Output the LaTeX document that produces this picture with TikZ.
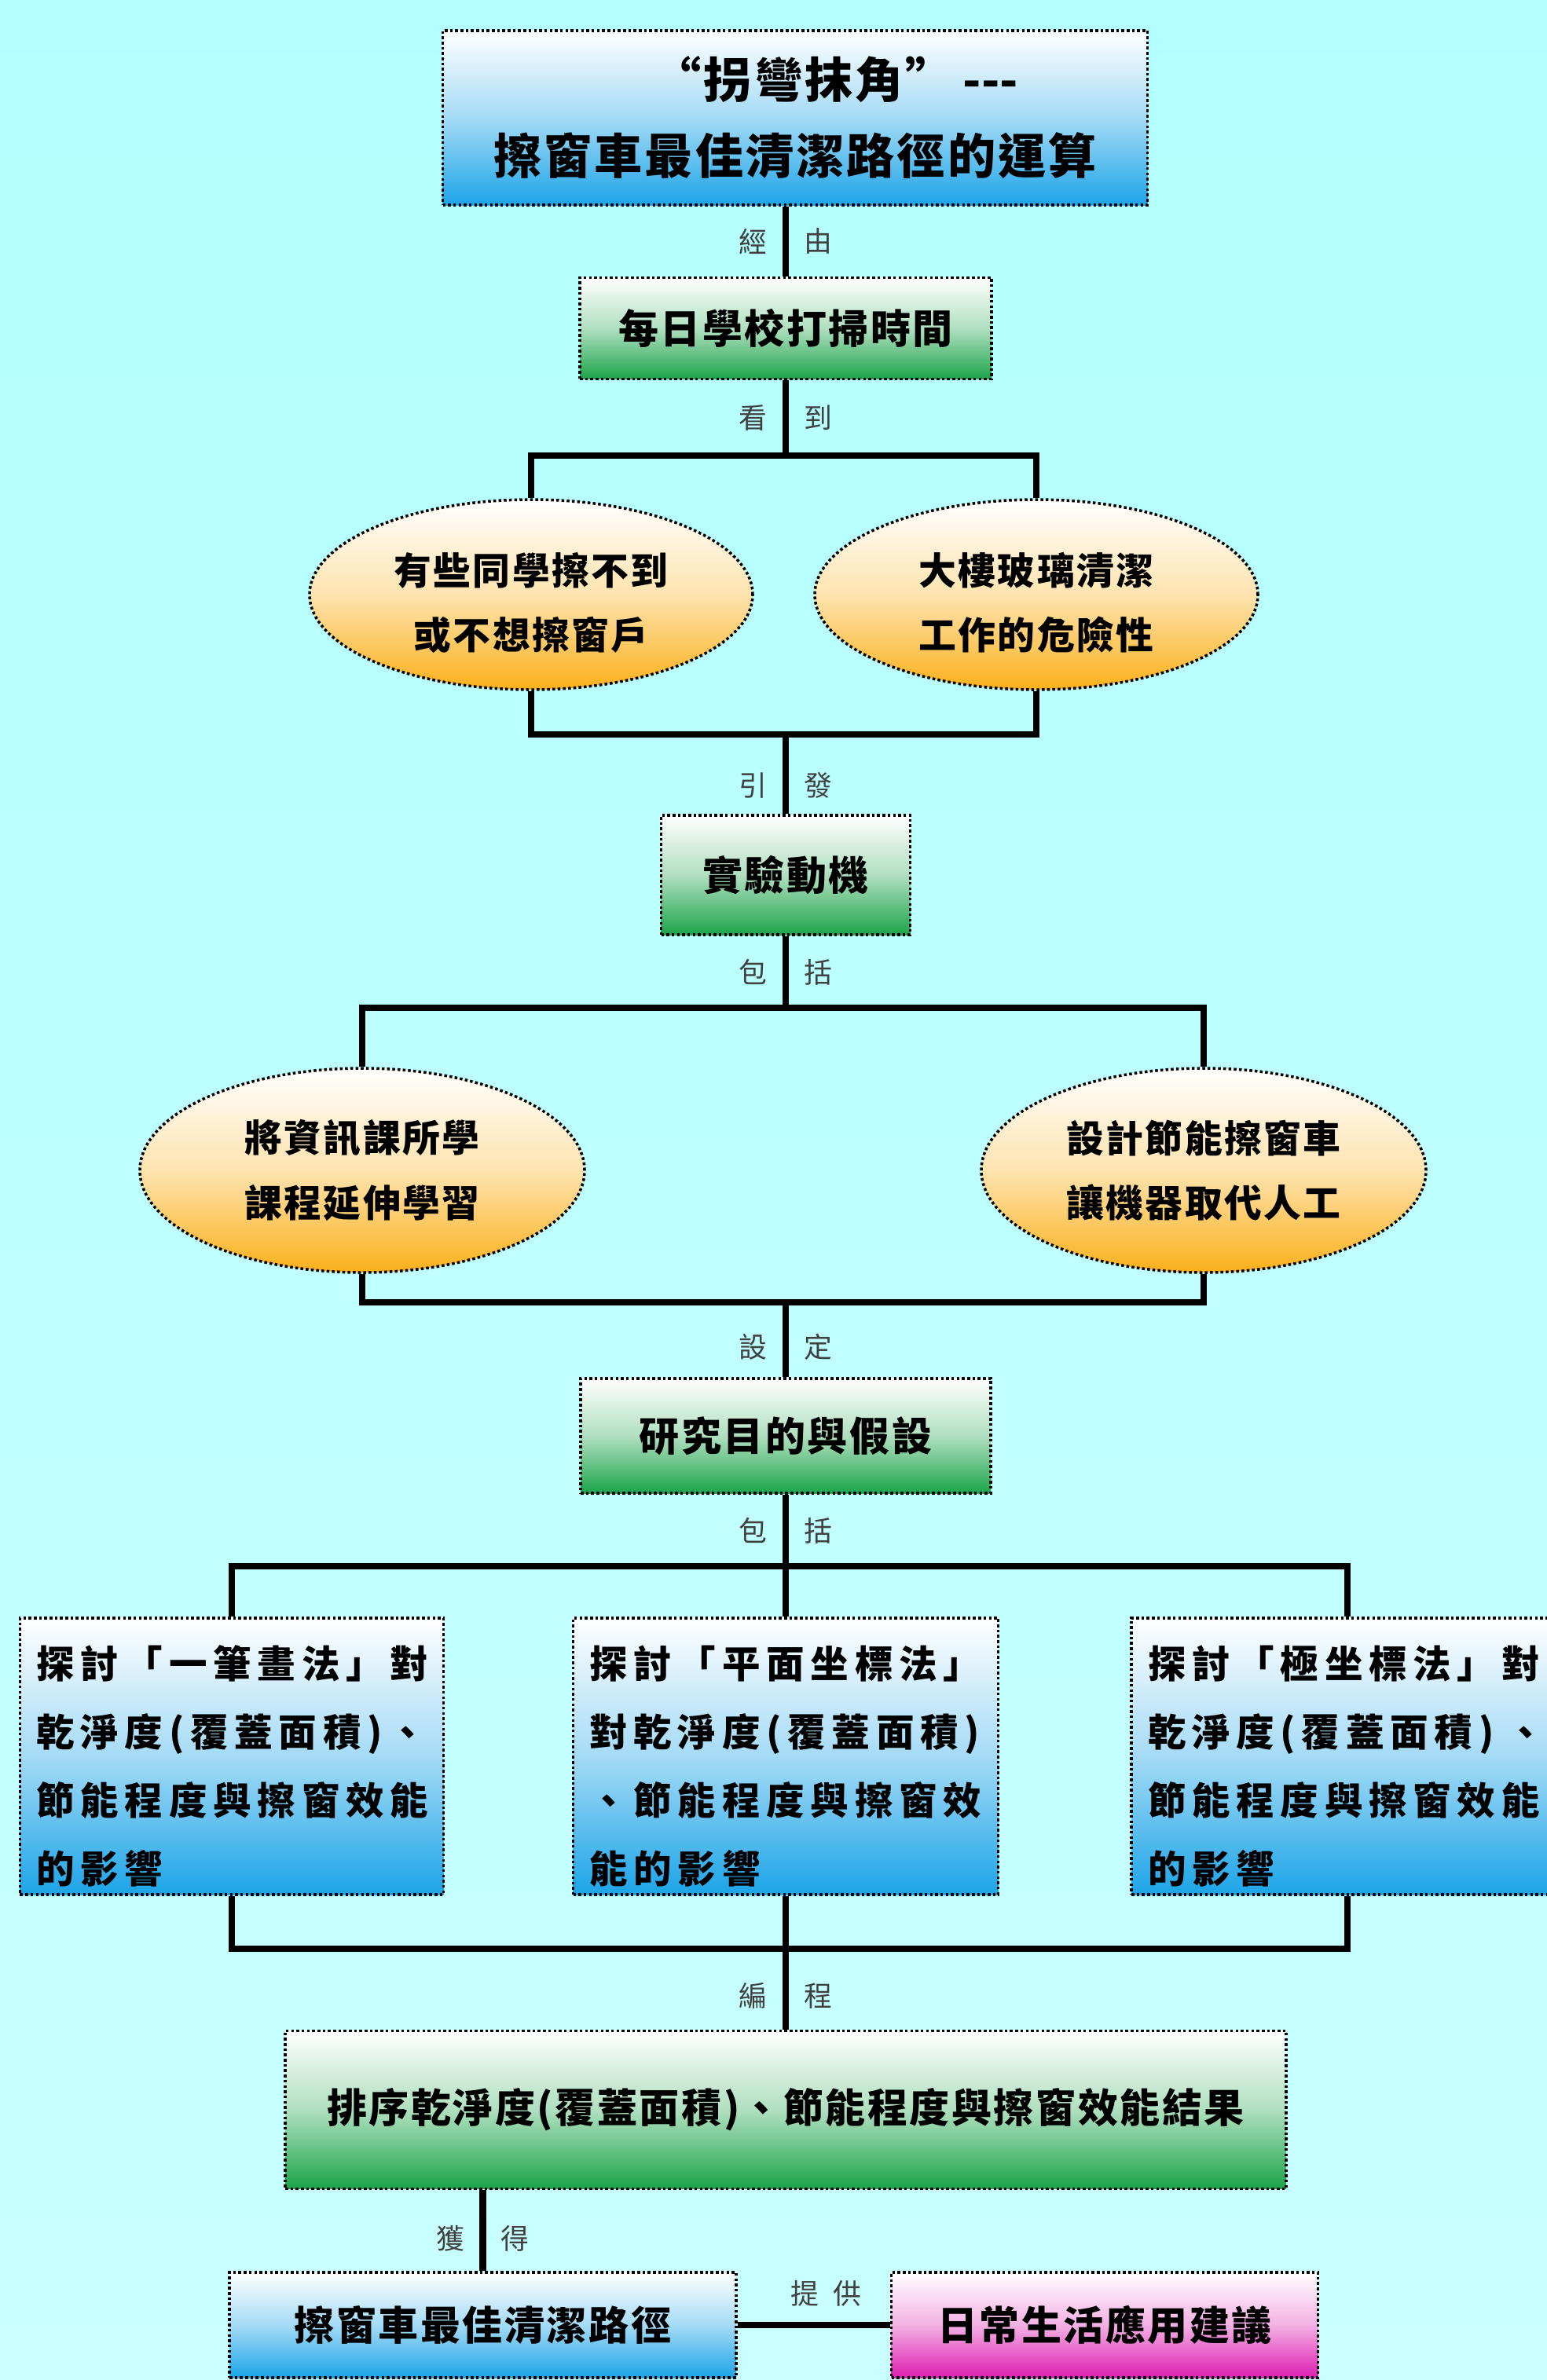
\documentclass[tikz,border=0pt]{standalone}
\usepackage{fontspec}
\setmainfont{Noto Sans CJK TC}
\newfontfamily\boxfont{Noto Sans CJK TC}[LetterSpace=5]
\newfontfamily\widefont{Noto Sans CJK TC}[LetterSpace=16]
\usetikzlibrary{shapes.geometric}

\definecolor{bgtop}{RGB}{179,255,255}
\definecolor{bgbot}{RGB}{201,255,255}
\definecolor{skyend}{RGB}{28,164,232}
\definecolor{leafend}{RGB}{28,164,74}
\definecolor{amberend}{RGB}{251,176,26}
\definecolor{roseend}{RGB}{222,30,178}

\tikzset{
  card/.style={draw=black, line width=1pt, dash pattern=on 1pt off 0.9pt,
    inner sep=0pt, align=center, font=\boxfont\bfseries\fontsize{14.5}{22}\selectfont},
  skycard/.style={card, top color=white, bottom color=skyend, middle color=skyend!40},
  leafcard/.style={card, top color=white, bottom color=leafend, middle color=leafend!35},
  rosecard/.style={card, top color=white, bottom color=roseend, middle color=roseend!35},
  skytext/.style={skycard, minimum height=3.52cm, align=left, inner xsep=0.21cm,
    font=\widefont\bfseries\fontsize{13.8}{24.75}\selectfont},
  amberoval/.style={card, ellipse, top color=white, bottom color=amberend, middle color=amberend!35,
    font=\boxfont\bfseries\fontsize{13.6}{23.5}\selectfont},
  link/.style={draw=black, line width=2.3pt},
  tagl/.style={left, inner xsep=5.5pt, text=black!75, font=\fontsize{10.2}{12}\selectfont},
  tagr/.style={right, inner xsep=5.5pt, text=black!75, font=\fontsize{10.2}{12}\selectfont}
}

\begin{document}
\begin{tikzpicture}[x=1cm,y=-1cm]
\useasboundingbox (0,0) rectangle (19.69,30.30);
\fill[top color=bgtop, bottom color=bgbot] (0,0) rectangle (19.69,30.30);

\node[skycard, minimum width=8.97cm, minimum height=2.22cm,
  font=\boxfont\bfseries\fontsize{17.4}{27.6}\selectfont] (title) at (10.12,1.50)
  {\hspace*{1.04cm}“拐彎抹角”\hspace{0.12cm}\mbox{-}\mbox{-}\mbox{-}\\擦窗車最佳清潔路徑的運算};
\node[leafcard, minimum width=5.24cm, minimum height=1.29cm] (clean) at (10.00,4.18) {每日學校打掃時間};
\node[amberoval, minimum width=5.64cm, minimum height=2.42cm] (reach) at (6.76,7.57) {\rule{0pt}{0.62cm}有些同學擦不到\\或不想擦窗戶};
\node[amberoval, minimum width=5.64cm, minimum height=2.42cm] (danger) at (13.19,7.57) {\rule{0pt}{0.62cm}大樓玻璃清潔\\工作的危險性};
\node[leafcard, minimum width=3.17cm, minimum height=1.52cm] (motive) at (10.00,11.14) {實驗動機};
\node[amberoval, minimum width=5.66cm, minimum height=2.60cm] (course) at (4.61,14.90) {將資訊課所學\\課程延伸學習};
\node[amberoval, minimum width=5.66cm, minimum height=2.60cm] (robot) at (15.32,14.90) {設計節能擦窗車\\讓機器取代人工};
\node[leafcard, minimum width=5.22cm, minimum height=1.46cm] (aim) at (10.00,18.28) {研究目的與假設};
\node[skytext, text width=4.97cm] (stroke) at (2.95,22.36)
  {\rule{0pt}{0.67cm}探討「一筆畫法」對\\乾淨度(覆蓋面積)、\\節能程度與擦窗效能\\的影響};
\node[skytext, text width=4.99cm] (plane) at (10.00,22.36)
  {\rule{0pt}{0.67cm}探討「平面坐標法」\\對乾淨度(覆蓋面積)\\、節能程度與擦窗效\\能的影響};
\node[skytext, text width=5.08cm] (polar) at (17.15,22.36)
  {\rule{0pt}{0.67cm}探討「極坐標法」對\\乾淨度(覆蓋面積) 、\\節能程度與擦窗效能\\的影響};
\node[leafcard, minimum width=12.74cm, minimum height=2.01cm] (rank) at (10.00,26.86)
  {排序乾淨度(覆蓋面積)、節能程度與擦窗效能結果};
\node[skycard, minimum width=6.45cm, minimum height=1.34cm] (route) at (6.145,29.60) {擦窗車最佳清潔路徑};
\node[rosecard, minimum width=5.43cm, minimum height=1.34cm] (advice) at (14.06,29.60) {日常生活應用建議};

\coordinate (j1) at (10.00,5.80);
\coordinate (j2) at (10.00,9.35);
\coordinate (j3) at (10.00,12.83);
\coordinate (j4) at (10.00,16.58);
\coordinate (j5) at (10.00,19.94);
\coordinate (j6) at (10.00,24.81);

\draw[link] (clean.north |- title.south) -- node[tagl]{經} node[tagr]{由} (clean.north);
\draw[link] (clean) -- node[tagl]{看} node[tagr]{到} (j1);
\draw[link] (reach.north) |- (j1) -| (danger.north);
\draw[link] (reach.south) |- (j2) -| (danger.south);
\draw[link] (j2) -- node[tagl,pos=.64]{引} node[tagr,pos=.64]{發} (motive);
\draw[link] (motive) -- node[tagl]{包} node[tagr]{括} (j3);
\draw[link] (course.north) |- (j3) -| (robot.north);
\draw[link] (course.south) |- (j4) -| (robot.south);
\draw[link] (j4) -- node[tagl,pos=.6]{設} node[tagr,pos=.6]{定} (aim);
\draw[link] (aim) -- node[tagl]{包} node[tagr]{括} (j5);
\draw[link] (stroke.north) |- (j5) -| (polar.north);
\draw[link] (j5) -- (plane);
\draw[link] (stroke.south) |- (j6) -| (polar.south);
\draw[link] (plane) -- (j6);
\draw[link] (j6) -- node[tagl,pos=.58]{編} node[tagr,pos=.58]{程} (rank);
\draw[link] (route.north |- rank.south) -- node[tagl,pos=.6]{獲} node[tagr,pos=.6]{得} (route.north);
\draw[link] (route) -- node[above, inner ysep=5.5pt, xshift=0.16cm, text=black!75,
  font=\fontsize{10.2}{12}\selectfont]{提\hspace{0.18cm}供} (advice);
\end{tikzpicture}
\end{document}
